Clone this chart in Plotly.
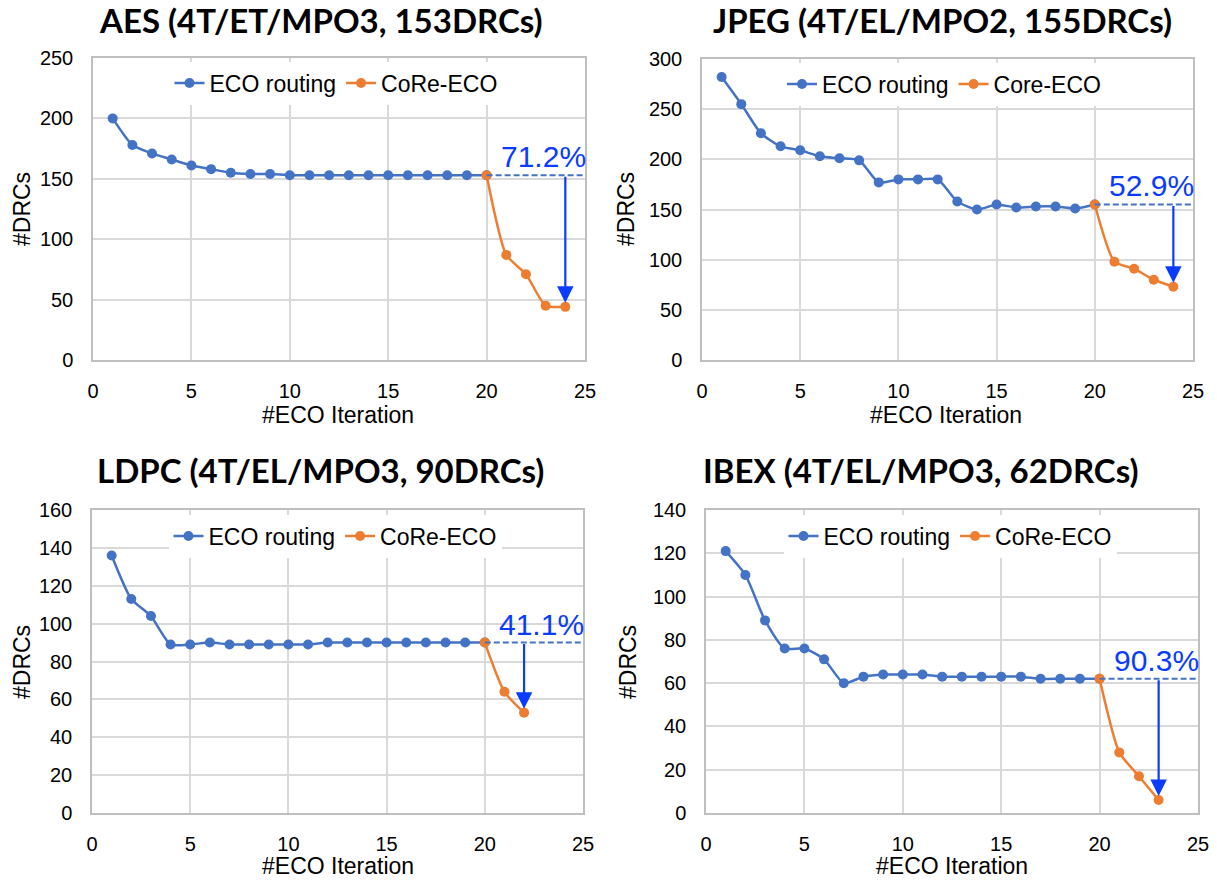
import plotly.graph_objects as go

# ---------------- data ----------------
iters_eco = list(range(1, 21))

aes_eco = [200, 178, 171, 166, 161, 158, 155, 154, 154, 153, 153, 153, 153, 153, 153, 153, 153, 153, 153, 153]
aes_core_x = [20, 21, 22, 23, 24]
aes_core = [153, 87, 71, 45, 44]

jpeg_eco = [282, 255, 226, 213, 209, 203, 201, 199, 177, 180, 180, 180, 158, 150, 155, 152, 153, 153, 151, 155]
jpeg_core_x = [20, 21, 22, 23, 24]
jpeg_core = [155, 98, 91, 80, 73]

ldpc_eco = [136, 113, 104, 89, 89, 90, 89, 89, 89, 89, 89, 90, 90, 90, 90, 90, 90, 90, 90, 90]
ldpc_core_x = [20, 21, 22]
ldpc_core = [90, 64, 53]

ibex_eco = [121, 110, 89, 76, 76, 71, 60, 63, 64, 64, 64, 63, 63, 63, 63, 63, 62, 62, 62, 62]
ibex_core_x = [20, 21, 22, 23]
ibex_core = [62, 28, 17, 6]

titles = ["AES (4T/ET/MPO3, 153DRCs)", "JPEG (4T/EL/MPO2, 155DRCs)",
          "LDPC (4T/EL/MPO3, 90DRCs)", "IBEX (4T/EL/MPO3, 62DRCs)"]
core_names = ["CoRe-ECO", "Core-ECO", "CoRe-ECO", "CoRe-ECO"]
pct_labels = ["71.2%", "52.9%", "41.1%", "90.3%"]
y_max = [250, 300, 160, 140]
y_dtick = [50, 50, 20, 20]

panels = [
    (aes_eco, aes_core_x, aes_core),
    (jpeg_eco, jpeg_core_x, jpeg_core),
    (ldpc_eco, ldpc_core_x, ldpc_core),
    (ibex_eco, ibex_core_x, ibex_core),
]

# ---------------- style / layout ----------------
W, H = 1217, 884
BLUE = "#4472C4"
ORANGE = "#ED7D31"
ARROW = "#0A3CFF"
GRID = "#D9D9D9"
BORDER = "#BFBFBF"
FONT = "Liberation Sans, Arial, sans-serif"
TFONT = "Lato, Carlito, sans-serif"

# plot areas in pixels: (left, right, top, bottom)
boxes = [(93, 585, 58, 360), (702, 1193, 59, 360), (92, 583, 510, 813), (706, 1198, 510, 813)]
title_pos = [(321, 20), (942, 20), (320, 470), (921, 470)]
legend_pos = [(336, 83), (944, 84), (335, 536), (950, 536)]
xtitle_pos = [(338, 415), (946, 415), (338, 866), (952, 866)]
ytitle_pos = [(22, 209), (626, 209), (22, 662), (628, 662)]

def px(x):
    return x / W

def py(y):
    return 1 - y / H

fig = go.Figure()
annotations = []
shapes = []

for i, (eco, cx, cy) in enumerate(panels):
    n = "" if i == 0 else str(i + 1)
    xa, ya = "x" + n, "y" + n
    leg = "legend" + n
    fig.add_trace(go.Scatter(
        x=iters_eco, y=eco, mode="lines+markers", name="ECO routing",
        line=dict(color=BLUE, width=2.5, shape="spline", smoothing=0.6),
        marker=dict(color=BLUE, size=10), xaxis=xa, yaxis=ya, legend=leg))
    fig.add_trace(go.Scatter(
        x=cx, y=cy, mode="lines+markers", name=core_names[i],
        line=dict(color=ORANGE, width=2.5, shape="spline", smoothing=0.6),
        marker=dict(color=ORANGE, size=10), xaxis=xa, yaxis=ya, legend=leg))

    l, r, t, b = boxes[i]
    axis_common = dict(showgrid=True, gridcolor=GRID, gridwidth=1.5, automargin=False,
                       showline=True, linecolor=BORDER, linewidth=1.5, mirror=True,
                       zeroline=False, ticks="", tickfont=dict(family=FONT, size=20, color="#000"))
    fig.layout["xaxis" + n] = dict(domain=[px(l), px(r)], anchor=ya, range=[0, 25], dtick=5,
                                   ticklabelstandoff=12, **axis_common)
    fig.layout["yaxis" + n] = dict(domain=[py(b), py(t)], anchor=xa, range=[0, y_max[i]],
                                   dtick=y_dtick[i], ticklabelstandoff=14, **axis_common)

    lx, ly = legend_pos[i]
    fig.layout[leg] = dict(x=px(lx), y=py(ly), xanchor="center", yanchor="middle",
                           orientation="h", bgcolor="white",
                           font=dict(family=FONT, size=23, color="#000"),
                           itemwidth=30, tracegroupgap=0)

    tx, ty = title_pos[i]
    annotations.append(dict(text="<b>" + titles[i] + "</b>", x=px(tx), y=py(ty), xref="paper", yref="paper",
                            xanchor="center", yanchor="middle", showarrow=False,
                            font=dict(family=TFONT, size=33, color="#000")))
    xx, xy = xtitle_pos[i]
    annotations.append(dict(text="#ECO Iteration", x=px(xx), y=py(xy), xref="paper", yref="paper",
                            xanchor="center", yanchor="middle", showarrow=False,
                            font=dict(family=FONT, size=23, color="#000")))
    yx, yy = ytitle_pos[i]
    annotations.append(dict(text="#DRCs", x=px(yx), y=py(yy), xref="paper", yref="paper",
                            xanchor="center", yanchor="middle", showarrow=False, textangle=-90,
                            font=dict(family=FONT, size=23, color="#000")))

    base = eco[-1]
    last_x, last_y = cx[-1], cy[-1]
    # dashed reference line
    shapes.append(dict(type="line", xref=xa, yref=ya, x0=20, x1=25.1, y0=base, y1=base,
                       line=dict(color=BLUE, width=2, dash="6px,3px")))
    # arrow
    annotations.append(dict(x=last_x, y=last_y, ax=last_x, ay=base, xref=xa, yref=ya,
                            axref=xa, ayref=ya, showarrow=True, arrowhead=2, arrowsize=1.5,
                            arrowwidth=2.2, arrowcolor=ARROW, standoff=4, text=""))
    # percentage label
    annotations.append(dict(text=pct_labels[i], x=1.006, y=base, xref=xa + " domain", yref=ya,
                            xanchor="right", yanchor="bottom", showarrow=False, yshift=0,
                            font=dict(family=FONT, size=30, color=ARROW)))

fig.update_layout(width=W, height=H, margin=dict(l=0, r=0, t=0, b=0, pad=0, autoexpand=False),
                  paper_bgcolor="white", plot_bgcolor="white",
                  annotations=annotations, shapes=shapes, showlegend=True)

fig.write_html("out.html", post_script="document.body.style.margin='0';")
